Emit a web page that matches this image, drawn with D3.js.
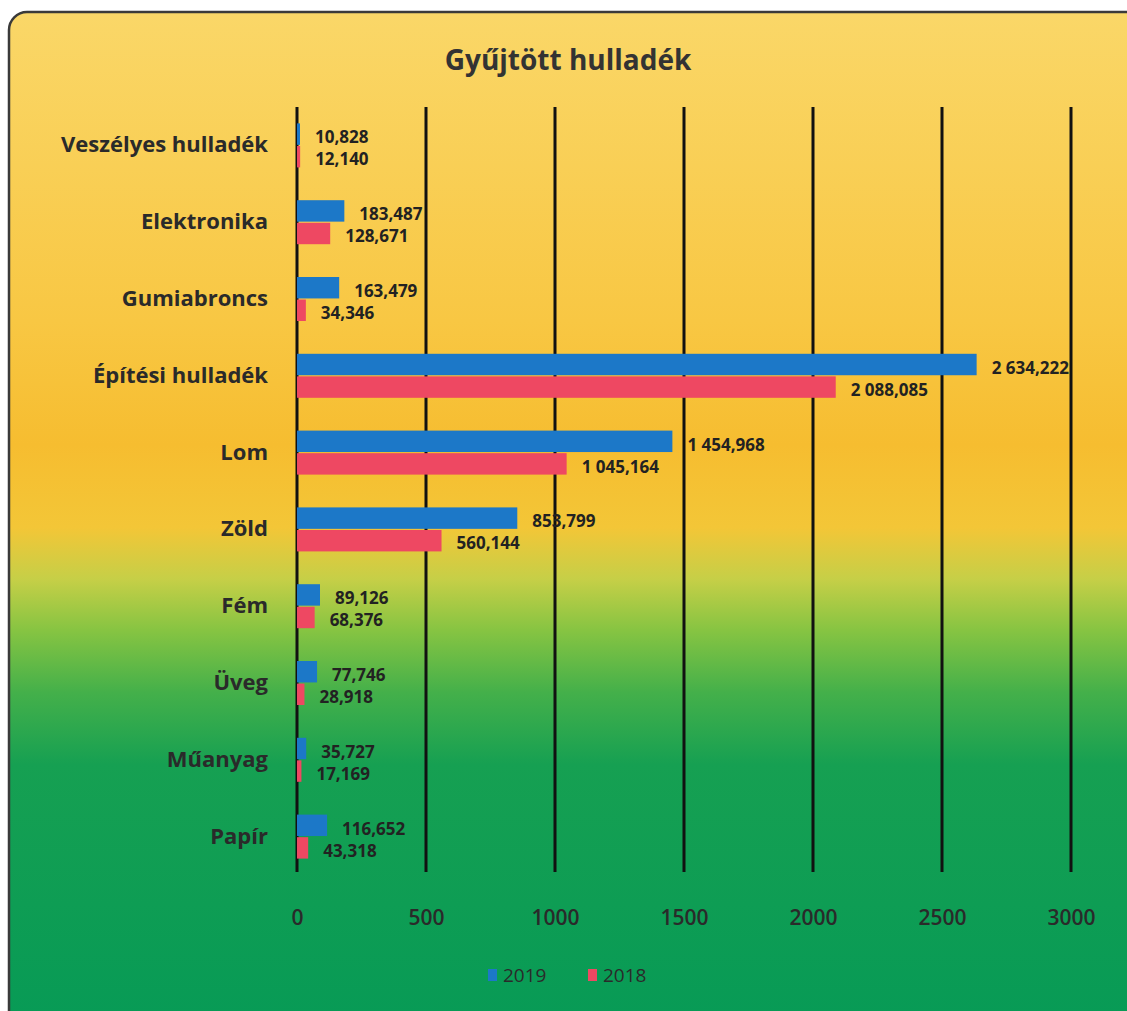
<!DOCTYPE html>
<html>
<head>
<meta charset="utf-8">
<script src="https://cdn.jsdelivr.net/npm/d3@7"></script>
<style>
  body { margin: 0; background: #fff; }
  svg { display: block; }
</style>
</head>
<body>
<div class="chart"></div>
<script>
const categories = ['Veszélyes hulladék', 'Elektronika', 'Gumiabroncs', 'Építési hulladék', 'Lom', 'Zöld', 'Fém', 'Üveg', 'Műanyag', 'Papír'];
const values2019 = [10.828, 183.487, 163.479, 2634.222, 1454.968, 853.799, 89.126, 77.746, 35.727, 116.652];
const values2018 = [12.140, 128.671, 34.346, 2088.085, 1045.164, 560.144, 68.376, 28.918, 17.169, 43.318];
const seriesNames = ['2019', '2018'];
const xTicks = [0, 500, 1000, 1500, 2000, 2500, 3000];

const width = 1127;
const height = 1011;
const font = "'Open Sans', 'DejaVu Sans', sans-serif";

const huLocale = d3.formatLocale({ decimal: ',', thousands: ' ', grouping: [3], currency: ['', ''] });
const fmt = huLocale.format(',.3f');

const svg = d3.select('.chart')
  .append('svg')
  .attr('width', width)
  .attr('height', height);

// background gradient
const defs = svg.append('defs');
const grad = defs.append('linearGradient')
  .attr('id', 'bg')
  .attr('x1', 0).attr('y1', 0).attr('x2', 0).attr('y2', 1);
[
  [0, '#fad768'],
  [0.3, '#f8c743'],
  [0.42, '#f6bd30'],
  [0.5, '#f3c637'],
  [0.55, '#c6cf47'],
  [0.6, '#86c442'],
  [0.66, '#44b04a'],
  [0.73, '#16a052'],
  [1, '#069a56'],
].forEach(([o, c]) => grad.append('stop').attr('offset', o).attr('stop-color', c));

svg.append('rect')
  .attr('x', 9)
  .attr('y', 12)
  .attr('width', width + 20)
  .attr('height', height + 20)
  .attr('rx', 18)
  .attr('fill', 'url(#bg)')
  .attr('stroke', '#3a3a3a')
  .attr('stroke-width', 2.5);

// title
svg.append('text')
  .attr('x', 568)
  .attr('y', 70)
  .attr('text-anchor', 'middle')
  .attr('font-family', font)
  .attr('font-weight', 700)
  .attr('font-size', 28)
  .attr('fill', '#333')
  .text('Gyűjtött hulladék');

const xScale = d3.scaleLinear()
  .domain([0, 3000])
  .range([297, 1071]);

const yScale = d3.scaleBand()
  .domain(categories)
  .range([107, 875]);

const subScale = d3.scaleBand()
  .domain(seriesNames)
  .range([-22, 22])
  .paddingInner(0.05);

const colors = { '2019': '#1c78c8', '2018': '#ee4862' };

// gridlines
svg.append('g')
  .selectAll('line')
  .data(xTicks)
  .join('line')
  .attr('x1', (d) => xScale(d))
  .attr('x2', (d) => xScale(d))
  .attr('y1', 107)
  .attr('y2', 872)
  .attr('stroke', '#111')
  .attr('stroke-width', 3);

// x axis labels
const xAxis = svg.append('g')
  .attr('transform', 'translate(0, 910)')
  .call(d3.axisBottom(xScale).tickValues(xTicks).tickSize(0).tickPadding(0).tickFormat(d3.format('d')));
xAxis.select('.domain').remove();
xAxis.selectAll('text')
  .attr('font-family', font)
  .attr('font-weight', 600)
  .attr('font-size', 21)
  .attr('fill', '#2a2a2a');

// category labels
const yAxis = svg.append('g')
  .attr('transform', 'translate(268, 0)')
  .call(d3.axisLeft(yScale).tickSize(0).tickPadding(0));
yAxis.select('.domain').remove();
yAxis.selectAll('text')
  .attr('font-family', font)
  .attr('font-weight', 700)
  .attr('font-size', 22)
  .attr('fill', '#2a2a2a');

const rows = categories.map((c, i) => ({
  category: c,
  bars: [
    { series: '2019', value: values2019[i] },
    { series: '2018', value: values2018[i] },
  ],
}));

const groups = svg.append('g')
  .selectAll('g')
  .data(rows)
  .join('g')
  .attr('transform', (d) => `translate(0, ${yScale(d.category) + yScale.bandwidth() / 2})`);

groups.selectAll('rect')
  .data((d) => d.bars)
  .join('rect')
  .attr('x', xScale(0))
  .attr('y', (d) => subScale(d.series))
  .attr('width', (d) => Math.max(xScale(d.value) - xScale(0), 3))
  .attr('height', subScale.bandwidth())
  .attr('fill', (d) => colors[d.series]);

groups.selectAll('text')
  .data((d) => d.bars)
  .join('text')
  .attr('x', (d) => Math.max(xScale(d.value), xScale(0) + 3) + 15)
  .attr('y', (d) => (d.series === '2019' ? -2 : 20))
  .attr('font-family', font)
  .attr('font-weight', 700)
  .attr('font-size', 17)
  .attr('fill', '#222')
  .text((d) => fmt(d.value));

// legend
const legend = svg.append('g')
  .attr('transform', 'translate(488, 975)')
  .selectAll('g')
  .data(seriesNames)
  .join('g')
  .attr('transform', (d, i) => `translate(${i * 100}, 0)`);

legend.append('rect')
  .attr('x', 0)
  .attr('y', -6)
  .attr('width', 9)
  .attr('height', 12)
  .attr('fill', (d) => colors[d]);

legend.append('text')
  .attr('x', 15)
  .attr('y', 7)
  .attr('font-family', font)
  .attr('font-size', 19)
  .attr('fill', '#2a2a2a')
  .text((d) => d);
</script>
</body>
</html>
